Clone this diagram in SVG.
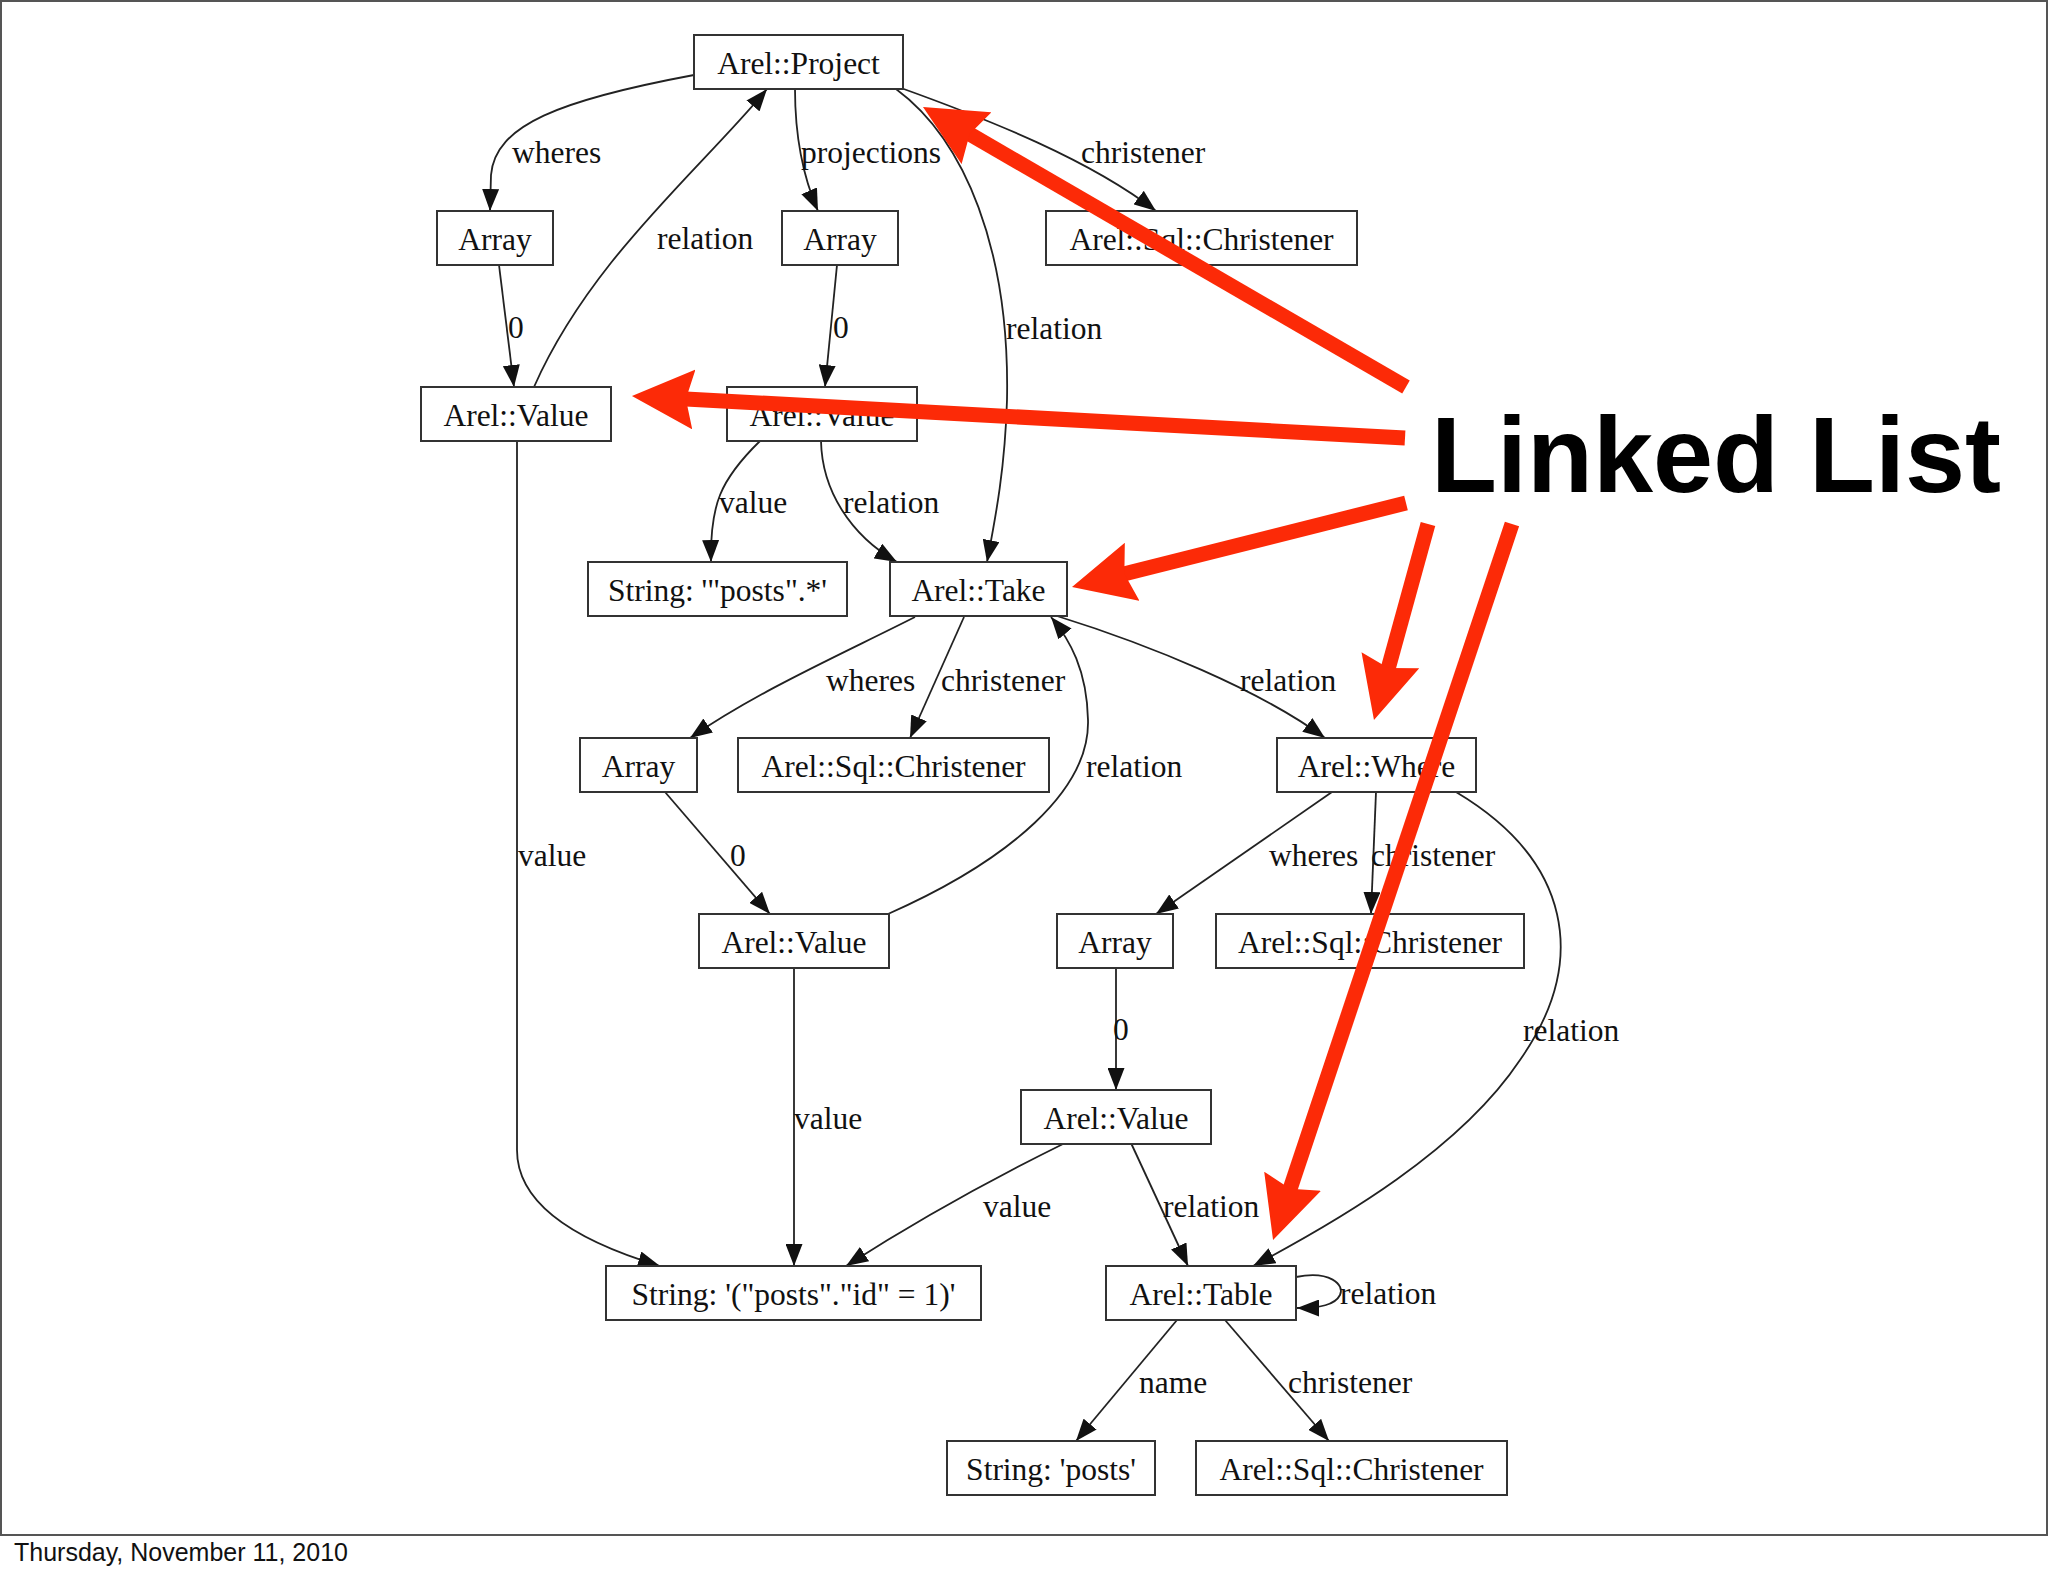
<svg xmlns="http://www.w3.org/2000/svg" width="2048" height="1576" viewBox="0 0 2048 1576">
<style>
.node rect{fill:#fff;stroke:#333;stroke-width:2}
.node text{font-family:"Liberation Serif","Times New Roman",serif;font-size:31.5px;fill:#111;text-anchor:middle}
.lbl{font-family:"Liberation Serif","Times New Roman",serif;font-size:31.5px;fill:#111}
.edge{fill:none;stroke:#222;stroke-width:1.8;marker-end:url(#ah)}
.red{fill:none;stroke:#fc2a07;stroke-width:15;marker-end:url(#rh)}
</style>
<defs>
<marker id="ah" markerUnits="userSpaceOnUse" viewBox="0 0 22 17" markerWidth="22" markerHeight="17" refX="22" refY="8.5" orient="auto">
<path d="M0,0 L22,8.5 L0,17 z" fill="#111"/>
</marker>
<marker id="rh" markerUnits="userSpaceOnUse" viewBox="0 0 62 60" markerWidth="62" markerHeight="60" refX="22" refY="30" orient="auto">
<path d="M0,0 L62,30 L0,60 L8,30 z" fill="#fc2a07"/>
</marker>
</defs>
<rect x="0" y="0" width="2048" height="1576" fill="#fff"/>
<rect x="1" y="1" width="2046" height="1534" fill="none" stroke="#555" stroke-width="2"/>
<text x="14" y="1561" font-family="'Liberation Sans',Arial,sans-serif" font-size="25" fill="#111">Thursday, November 11, 2010</text>

<g id="connectors">
<path class="edge" d="M694,75 C560,100 495,125 491,175 L490,211"/>
<text class="lbl" x="512" y="163">wheres</text>
<path class="edge" d="M795,89 C795,130 800,170 818,211"/>
<text class="lbl" x="801" y="163">projections</text>
<path class="edge" d="M901,88 C990,120 1090,160 1156,211"/>
<text class="lbl" x="1081" y="163">christener</text>
<path class="edge" d="M534,387 C590,260 700,170 767,89"/>
<text class="lbl" x="657" y="249">relation</text>
<path class="edge" d="M499,265 L514,387"/>
<text class="lbl" x="508" y="338">0</text>
<path class="edge" d="M837,265 L825,387"/>
<text class="lbl" x="833" y="338">0</text>
<path class="edge" d="M896,89 C965,140 1010,250 1007,400 C1005,470 995,520 987,562"/>
<text class="lbl" x="1006" y="339">relation</text>
<path class="edge" d="M760,441 C720,480 710,505 711,562"/>
<text class="lbl" x="719" y="513">value</text>
<path class="edge" d="M821,441 C822,490 850,535 897,562"/>
<text class="lbl" x="843" y="513">relation</text>
<path class="edge" d="M915,617 C840,655 760,690 690,738"/>
<text class="lbl" x="826" y="691">wheres</text>
<path class="edge" d="M964,617 L910,738"/>
<text class="lbl" x="941" y="691">christener</text>
<path class="edge" d="M1057,616 C1150,645 1260,690 1325,738"/>
<text class="lbl" x="1240" y="691">relation</text>
<path class="edge" d="M888,914 C1010,860 1090,790 1088,720 C1087,670 1070,640 1051,617"/>
<text class="lbl" x="1086" y="777">relation</text>
<path class="edge" d="M665,792 L770,914"/>
<text class="lbl" x="730" y="866">0</text>
<path class="edge" d="M1332,792 L1156,914"/>
<text class="lbl" x="1269" y="866">wheres</text>
<path class="edge" d="M1376,792 L1371,914"/>
<text class="lbl" x="1371" y="866">christener</text>
<path class="edge" d="M1456,792 C1570,860 1590,960 1520,1060 C1460,1150 1340,1220 1253,1266"/>
<text class="lbl" x="1523" y="1041">relation</text>
<path class="edge" d="M1116,968 L1116,1090"/>
<text class="lbl" x="1113" y="1040">0</text>
<path class="edge" d="M517,441 L517,1150 C517,1210 590,1245 660,1266"/>
<text class="lbl" x="518" y="866">value</text>
<path class="edge" d="M794,968 L794,1266"/>
<text class="lbl" x="794" y="1129">value</text>
<path class="edge" d="M1065,1143 C990,1180 910,1225 846,1266"/>
<text class="lbl" x="983" y="1217">value</text>
<path class="edge" d="M1131,1143 L1188,1266"/>
<text class="lbl" x="1163" y="1217">relation</text>
<path class="edge" d="M1296,1277 C1330,1270 1345,1285 1340,1295 C1335,1305 1320,1308 1297,1308"/>
<text class="lbl" x="1340" y="1304">relation</text>
<path class="edge" d="M1177,1320 L1076,1441"/>
<text class="lbl" x="1139" y="1393">name</text>
<path class="edge" d="M1225,1320 L1329,1441"/>
<text class="lbl" x="1288" y="1393">christener</text>
</g>

<g id="n-project" class="node"><rect x="694" y="35" width="209" height="54"/><text x="798.5" y="74">Arel::Project</text></g>
<g id="n-array1" class="node"><rect x="437" y="211" width="116" height="54"/><text x="495" y="250">Array</text></g>
<g id="n-array2" class="node"><rect x="782" y="211" width="116" height="54"/><text x="840" y="250">Array</text></g>
<g id="n-christener1" class="node"><rect x="1046" y="211" width="311" height="54"/><text x="1201.5" y="250">Arel::Sql::Christener</text></g>
<g id="n-value1" class="node"><rect x="421" y="387" width="190" height="54"/><text x="516" y="426">Arel::Value</text></g>
<g id="n-value2" class="node"><rect x="727" y="387" width="190" height="54"/><text x="822" y="426">Arel::Value</text></g>
<g id="n-string1" class="node"><rect x="588" y="562" width="259" height="54"/><text x="717.5" y="601">String: '"posts".*'</text></g>
<g id="n-take" class="node"><rect x="890" y="562" width="177" height="54"/><text x="978.5" y="601">Arel::Take</text></g>
<g id="n-array3" class="node"><rect x="580" y="738" width="117" height="54"/><text x="638.5" y="777">Array</text></g>
<g id="n-christener2" class="node"><rect x="738" y="738" width="311" height="54"/><text x="893.5" y="777">Arel::Sql::Christener</text></g>
<g id="n-where" class="node"><rect x="1277" y="738" width="199" height="54"/><text x="1376.5" y="777">Arel::Where</text></g>
<g id="n-value3" class="node"><rect x="699" y="914" width="190" height="54"/><text x="794" y="953">Arel::Value</text></g>
<g id="n-array4" class="node"><rect x="1057" y="914" width="116" height="54"/><text x="1115" y="953">Array</text></g>
<g id="n-christener3" class="node"><rect x="1216" y="914" width="308" height="54"/><text x="1370" y="953">Arel::Sql::Christener</text></g>
<g id="n-value4" class="node"><rect x="1021" y="1090" width="190" height="54"/><text x="1116" y="1129">Arel::Value</text></g>
<g id="n-string2" class="node"><rect x="606" y="1266" width="375" height="54"/><text x="793.5" y="1305">String: '("posts"."id" = 1)'</text></g>
<g id="n-table" class="node"><rect x="1106" y="1266" width="190" height="54"/><text x="1201" y="1305">Arel::Table</text></g>
<g id="n-string3" class="node"><rect x="947" y="1441" width="208" height="54"/><text x="1051" y="1480">String: 'posts'</text></g>
<g id="n-christener4" class="node"><rect x="1196" y="1441" width="311" height="54"/><text x="1351.5" y="1480">Arel::Sql::Christener</text></g>

<g id="annotation">
<line class="red" x1="1406" y1="387" x2="957.6" y2="127.1"/>
<line class="red" x1="1405" y1="438" x2="671.9" y2="398.2"/>
<line class="red" x1="1406" y1="503" x2="1110.8" y2="577.2"/>
<line class="red" x1="1428" y1="524" x2="1384.6" y2="681.4"/>
<line class="red" x1="1512" y1="524" x2="1285.7" y2="1202.1"/>
<text x="1431" y="492" font-family="'Liberation Sans',Arial,sans-serif" font-weight="bold" font-size="108" fill="#000">Linked List</text>
</g>
</svg>
